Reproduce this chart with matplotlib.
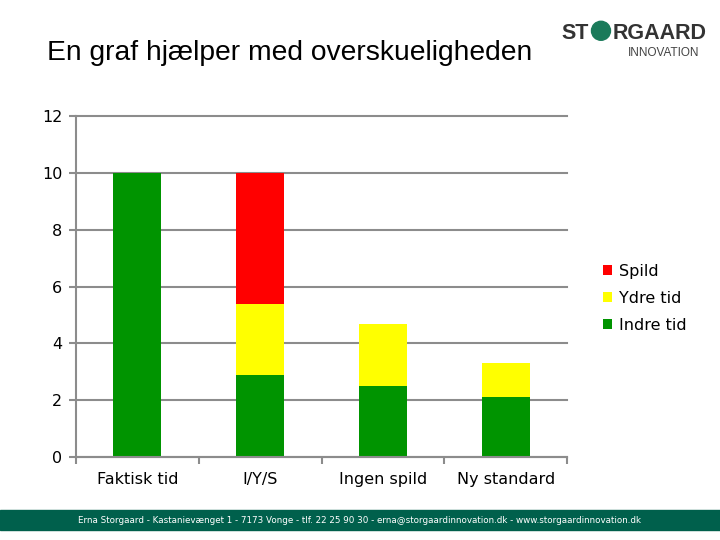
import matplotlib.pyplot as plt
from matplotlib.patches import Rectangle, Ellipse

categories = ['Faktisk tid', 'I/Y/S', 'Ingen spild', 'Ny standard']
indre_tid = [10, 2.9, 2.5, 2.1]
ydre_tid = [0, 2.5, 2.2, 1.2]
spild = [0, 4.6, 0, 0]

green = '#009400'
yellow = '#FFFF00'
red = '#FF0000'
grid_grey = '#8C8C8C'

fig = plt.figure(figsize=(7.2, 5.4), dpi=100)
ax = fig.add_axes([0.1056, 0.1537, 0.682, 0.631])

x = range(len(categories))
bottom2 = [a + b for a, b in zip(indre_tid, ydre_tid)]
b1 = ax.bar(x, indre_tid, width=0.39, color=green, label='Indre tid', zorder=2)
b2 = ax.bar(x, ydre_tid, width=0.39, bottom=indre_tid, color=yellow, label='Ydre tid', zorder=2)
b3 = ax.bar(x, spild, width=0.39, bottom=bottom2, color=red, label='Spild', zorder=2)

ax.set_xlim(-0.5, len(categories) - 0.5)
ax.set_ylim(0, 12)
ax.set_yticks(range(0, 13, 2))
ax.yaxis.grid(True, color=grid_grey, linewidth=1.5, zorder=0)
ax.set_axisbelow(True)
for gl in ax.get_ygridlines():
    gl.set_clip_on(False)

# category labels between boundary ticks
ax.set_xticks([i - 0.5 for i in range(len(categories) + 1)])
ax.set_xticklabels([])
ax.set_xticks(list(x), minor=True)
ax.set_xticklabels(categories, minor=True, fontsize=11.5)
ax.tick_params(axis='x', which='minor', length=0, pad=11)
ax.tick_params(axis='x', which='major', length=5, width=1.5, color=grid_grey, direction='out')
ax.tick_params(axis='y', length=5, width=1.5, color=grid_grey, labelsize=11.5, pad=5)

for s in ['top', 'right']:
    ax.spines[s].set_visible(False)
for s in ['left', 'bottom']:
    ax.spines[s].set_color(grid_grey)
    ax.spines[s].set_linewidth(1.5)

ax.legend(handles=[b3, b2, b1], loc='center left', bbox_to_anchor=(0.817, 0.448),
          bbox_transform=fig.transFigure, frameon=False, fontsize=11.5,
          handlelength=0.6, handleheight=0.6, handletextpad=0.4, labelspacing=0.75)

fig.text(0.065, 0.902, 'En graf hjælper med overskueligheden', fontsize=20.3, ha='left', va='center',
         family='Liberation Sans')

# logo
fig.text(0.818, 0.928, 'ST', fontsize=15.5, fontweight='semibold', color='#333333', ha='right',
         va='baseline', family='Liberation Sans')
fig.text(0.851, 0.928, 'RGAARD', fontsize=15.5, fontweight='semibold', color='#333333', ha='left',
         va='baseline', family='Liberation Sans')
fig.patches.append(Ellipse((0.8347, 0.943), 19 / 720, 19 / 540, transform=fig.transFigure,
                           color='#1A7A5A'))
fig.text(0.972, 0.897, 'INNOVATION', fontsize=8.5, color='#444444', ha='right', va='baseline',
         family='Liberation Sans')

# footer band
fig.patches.append(Rectangle((0, 0.018), 1, 0.037, transform=fig.transFigure, color='#00604C', zorder=0))
fig.text(0.5, 0.036, 'Erna Storgaard - Kastanievænget 1 - 7173 Vonge - tlf. 22 25 90 30 - erna@storgaardinnovation.dk - www.storgaardinnovation.dk',
         fontsize=6.3, color='white', ha='center', va='center')

plt.savefig('out.png', dpi=100)
